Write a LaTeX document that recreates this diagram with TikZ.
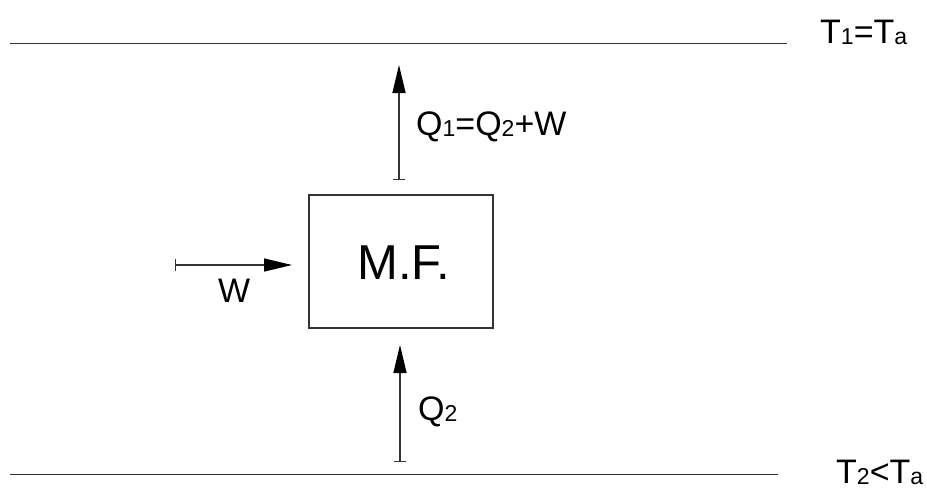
\documentclass[tikz,border=0pt]{standalone}
\usepackage{fontspec}
\setmainfont{Liberation Sans}
\usetikzlibrary{arrows.meta}
\definecolor{linegray}{HTML}{333333}
\newcommand{\lowsub}[1]{\raisebox{-1.5pt}{\fontsize{23pt}{25pt}\selectfont #1}}
\tikzset{
  lbl/.style={anchor=base west, inner sep=0pt, font=\fontsize{34pt}{38pt}\selectfont},
  bigl/.style={anchor=base west, inner sep=0pt, font=\fontsize{49pt}{52pt}\selectfont},
  level/.style={draw=linegray, line width=1.8pt},
  flow/.style={draw=linegray, line width=1.4pt,
    arrows={Bar[width=12pt,line width=1.4pt,color=linegray]-Triangle[length=28pt,width=13pt,color=black]}},
  mfbox/.style={draw=linegray, line width=1.7pt, minimum width=184pt, minimum height=133pt, inner sep=0pt}
}
\begin{document}
\begin{tikzpicture}[x=1pt,y=-1pt]
\useasboundingbox (0,0) rectangle (927,491);
% levels
\coordinate (topL) at (10,43.5);
\coordinate (topR) at (787,43.5);
\coordinate (botL) at (10,474.5);
\coordinate (botR) at (778,474.5);
\draw[level] (topL) -- (topR);
\draw[level] (botL) -- (botR);
\node[lbl] (t1) at (820,43) {T\lowsub{1}=T\lowsub{a}};
\node[lbl] (t2) at (836,483) {T\lowsub{2}<T\lowsub{a}};
% machine
\node[mfbox] (mf) at (401,261.5) {};
\node[bigl] (mftext) at (357,279) {M.F.};
% flows
\coordinate (q1s) at (399,180);
\coordinate (q1e) at (399,65);
\draw[flow] (q1s) -- (q1e);
\node[lbl] (q1) at (416,135) {Q\lowsub{1}=Q\lowsub{2}+W};
\coordinate (q2s) at (400,462);
\coordinate (q2e) at (400,345);
\draw[flow] (q2s) -- (q2e);
\node[lbl] (q2) at (418,420) {Q\lowsub{2}};
\coordinate (ws) at (175,265);
\coordinate (we) at (292,265);
\draw[flow] (ws) -- (we);
\node[lbl] (w) at (218,302) {W};
\end{tikzpicture}
\end{document}
